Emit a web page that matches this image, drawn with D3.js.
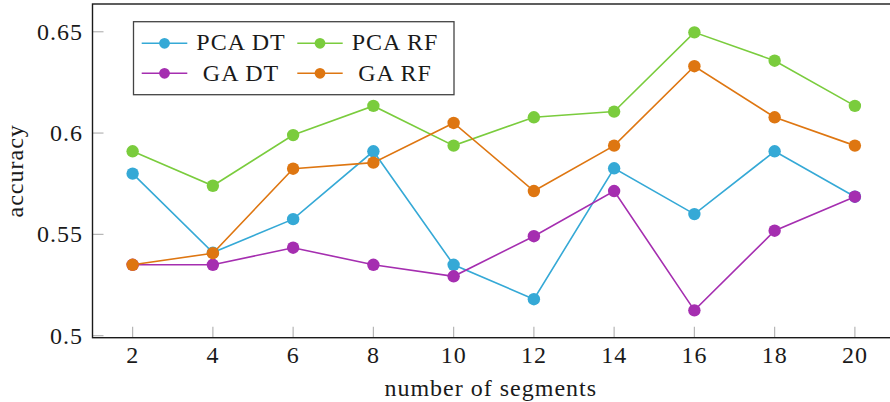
<!DOCTYPE html>
<html>
<head>
<meta charset="utf-8">
<script src="https://cdn.jsdelivr.net/npm/d3@7"></script>
<style>
  body { margin: 0; background: #fff; }
  text { font-family: "Liberation Serif", "Times New Roman", serif; fill: #1a1a1a; font-size: 24px; letter-spacing: 1px; }
</style>
</head>
<body>
<div id="chart"></div>
<script>
// data
var segments = [2, 4, 6, 8, 10, 12, 14, 16, 18, 20];
var pcaDT = [0.580, 0.541, 0.5575, 0.591, 0.535, 0.518, 0.5826, 0.560, 0.591, 0.5686];
var pcaRF = [0.591, 0.574, 0.599, 0.6134, 0.5938, 0.6078, 0.6106, 0.6497, 0.6357, 0.6134];
var gaDT = [0.535, 0.535, 0.5434, 0.535, 0.5293, 0.5491, 0.5714, 0.5125, 0.5518, 0.5686];
var gaRF = [0.535, 0.5407, 0.5824, 0.5854, 0.605, 0.5714, 0.5938, 0.633, 0.6078, 0.5938];
var yTicks = [0.5, 0.55, 0.6, 0.65];
var yTickLabels = ["0.5", "0.55", "0.6", "0.65"];

var series = [
    { name: "PCA DT", values: pcaDT, color: "#35a9d6" },
    { name: "PCA RF", values: pcaRF, color: "#7acc3d" },
    { name: "GA DT", values: gaDT, color: "#a52eb0" },
    { name: "GA RF", values: gaRF, color: "#de7611" }
];

var W = 890, H = 402;
var plotLeft = 92.5, plotRight = 891, plotTop = 4, plotBottom = 337.7;

var svg = d3.select("#chart")
    .append("svg")
    .attr("width", W)
    .attr("height", H);

var x = d3.scaleLinear().domain([1, 20.9]).range([plotLeft, plotRight]);
var y = d3.scaleLinear().domain([0.499, 0.6637]).range([plotBottom, plotTop]);

// tick marks (light grey, pointing inward)
svg.selectAll("xtick")
    .data(segments)
    .enter()
    .append("line")
    .attr("x1", d => x(d)).attr("x2", d => x(d))
    .attr("y1", plotBottom).attr("y2", plotBottom - 11)
    .attr("stroke", "#b5b5b5")
    .attr("stroke-width", 1.2);

svg.selectAll("ytick")
    .data(yTicks)
    .enter()
    .append("line")
    .attr("x1", plotLeft).attr("x2", plotLeft + 11)
    .attr("y1", d => y(d)).attr("y2", d => y(d))
    .attr("stroke", "#b5b5b5")
    .attr("stroke-width", 1.2);

// frame
svg.append("rect")
    .attr("x", plotLeft).attr("y", plotTop)
    .attr("width", plotRight - plotLeft).attr("height", plotBottom - plotTop)
    .attr("fill", "none")
    .attr("stroke", "#1a1a1a")
    .attr("stroke-width", 1.4);

// tick labels
svg.selectAll("xlabel")
    .data(segments)
    .enter()
    .append("text")
    .attr("x", d => x(d))
    .attr("y", 363)
    .attr("text-anchor", "middle")
    .text(d => d);

svg.selectAll("ylabel")
    .data(yTicks)
    .enter()
    .append("text")
    .attr("x", 83)
    .attr("y", d => y(d))
    .attr("dy", "0.33em")
    .attr("text-anchor", "end")
    .text((d, i) => yTickLabels[i]);

// axis titles
svg.append("text")
    .attr("x", (plotLeft + 889) / 2)
    .attr("y", 396)
    .attr("text-anchor", "middle")
    .text("number of segments");

svg.append("text")
    .attr("transform", "translate(23," + ((plotTop + plotBottom) / 2) + ")rotate(-90)")
    .attr("text-anchor", "middle")
    .text("accuracy");

// lines + markers
var line = d3.line()
    .x((d, i) => x(segments[i]))
    .y(d => y(d));

series.forEach(function(s) {
    svg.append("path")
        .datum(s.values)
        .attr("d", line)
        .attr("fill", "none")
        .attr("stroke", s.color)
        .attr("stroke-width", 1.6);

    svg.selectAll("dots")
        .data(s.values)
        .enter()
        .append("circle")
        .attr("cx", (d, i) => x(segments[i]))
        .attr("cy", d => y(d))
        .attr("r", 6.2)
        .attr("fill", s.color);
});

// legend
var legend = svg.append("g");
legend.append("rect")
    .attr("x", 133.5).attr("y", 21.7)
    .attr("width", 320.5).attr("height", 73)
    .attr("fill", "#fff")
    .attr("stroke", "#444")
    .attr("stroke-width", 1.3);

var colX = [[141.7, 187.3, 241], [297.3, 342.7, 395]];
var rowY = [[43.3, 49.5], [73.3, 81]];

series.forEach(function(s, i) {
    var c = colX[i % 2], r = rowY[Math.floor(i / 2)];
    legend.append("line")
        .attr("x1", c[0]).attr("x2", c[1])
        .attr("y1", r[0]).attr("y2", r[0])
        .attr("stroke", s.color)
        .attr("stroke-width", 1.6);
    legend.append("circle")
        .attr("cx", (c[0] + c[1]) / 2)
        .attr("cy", r[0])
        .attr("r", 5.4)
        .attr("fill", s.color);
    legend.append("text")
        .attr("x", c[2])
        .attr("y", r[1])
        .attr("text-anchor", "middle")
        .text(s.name);
});
</script>
</body>
</html>
